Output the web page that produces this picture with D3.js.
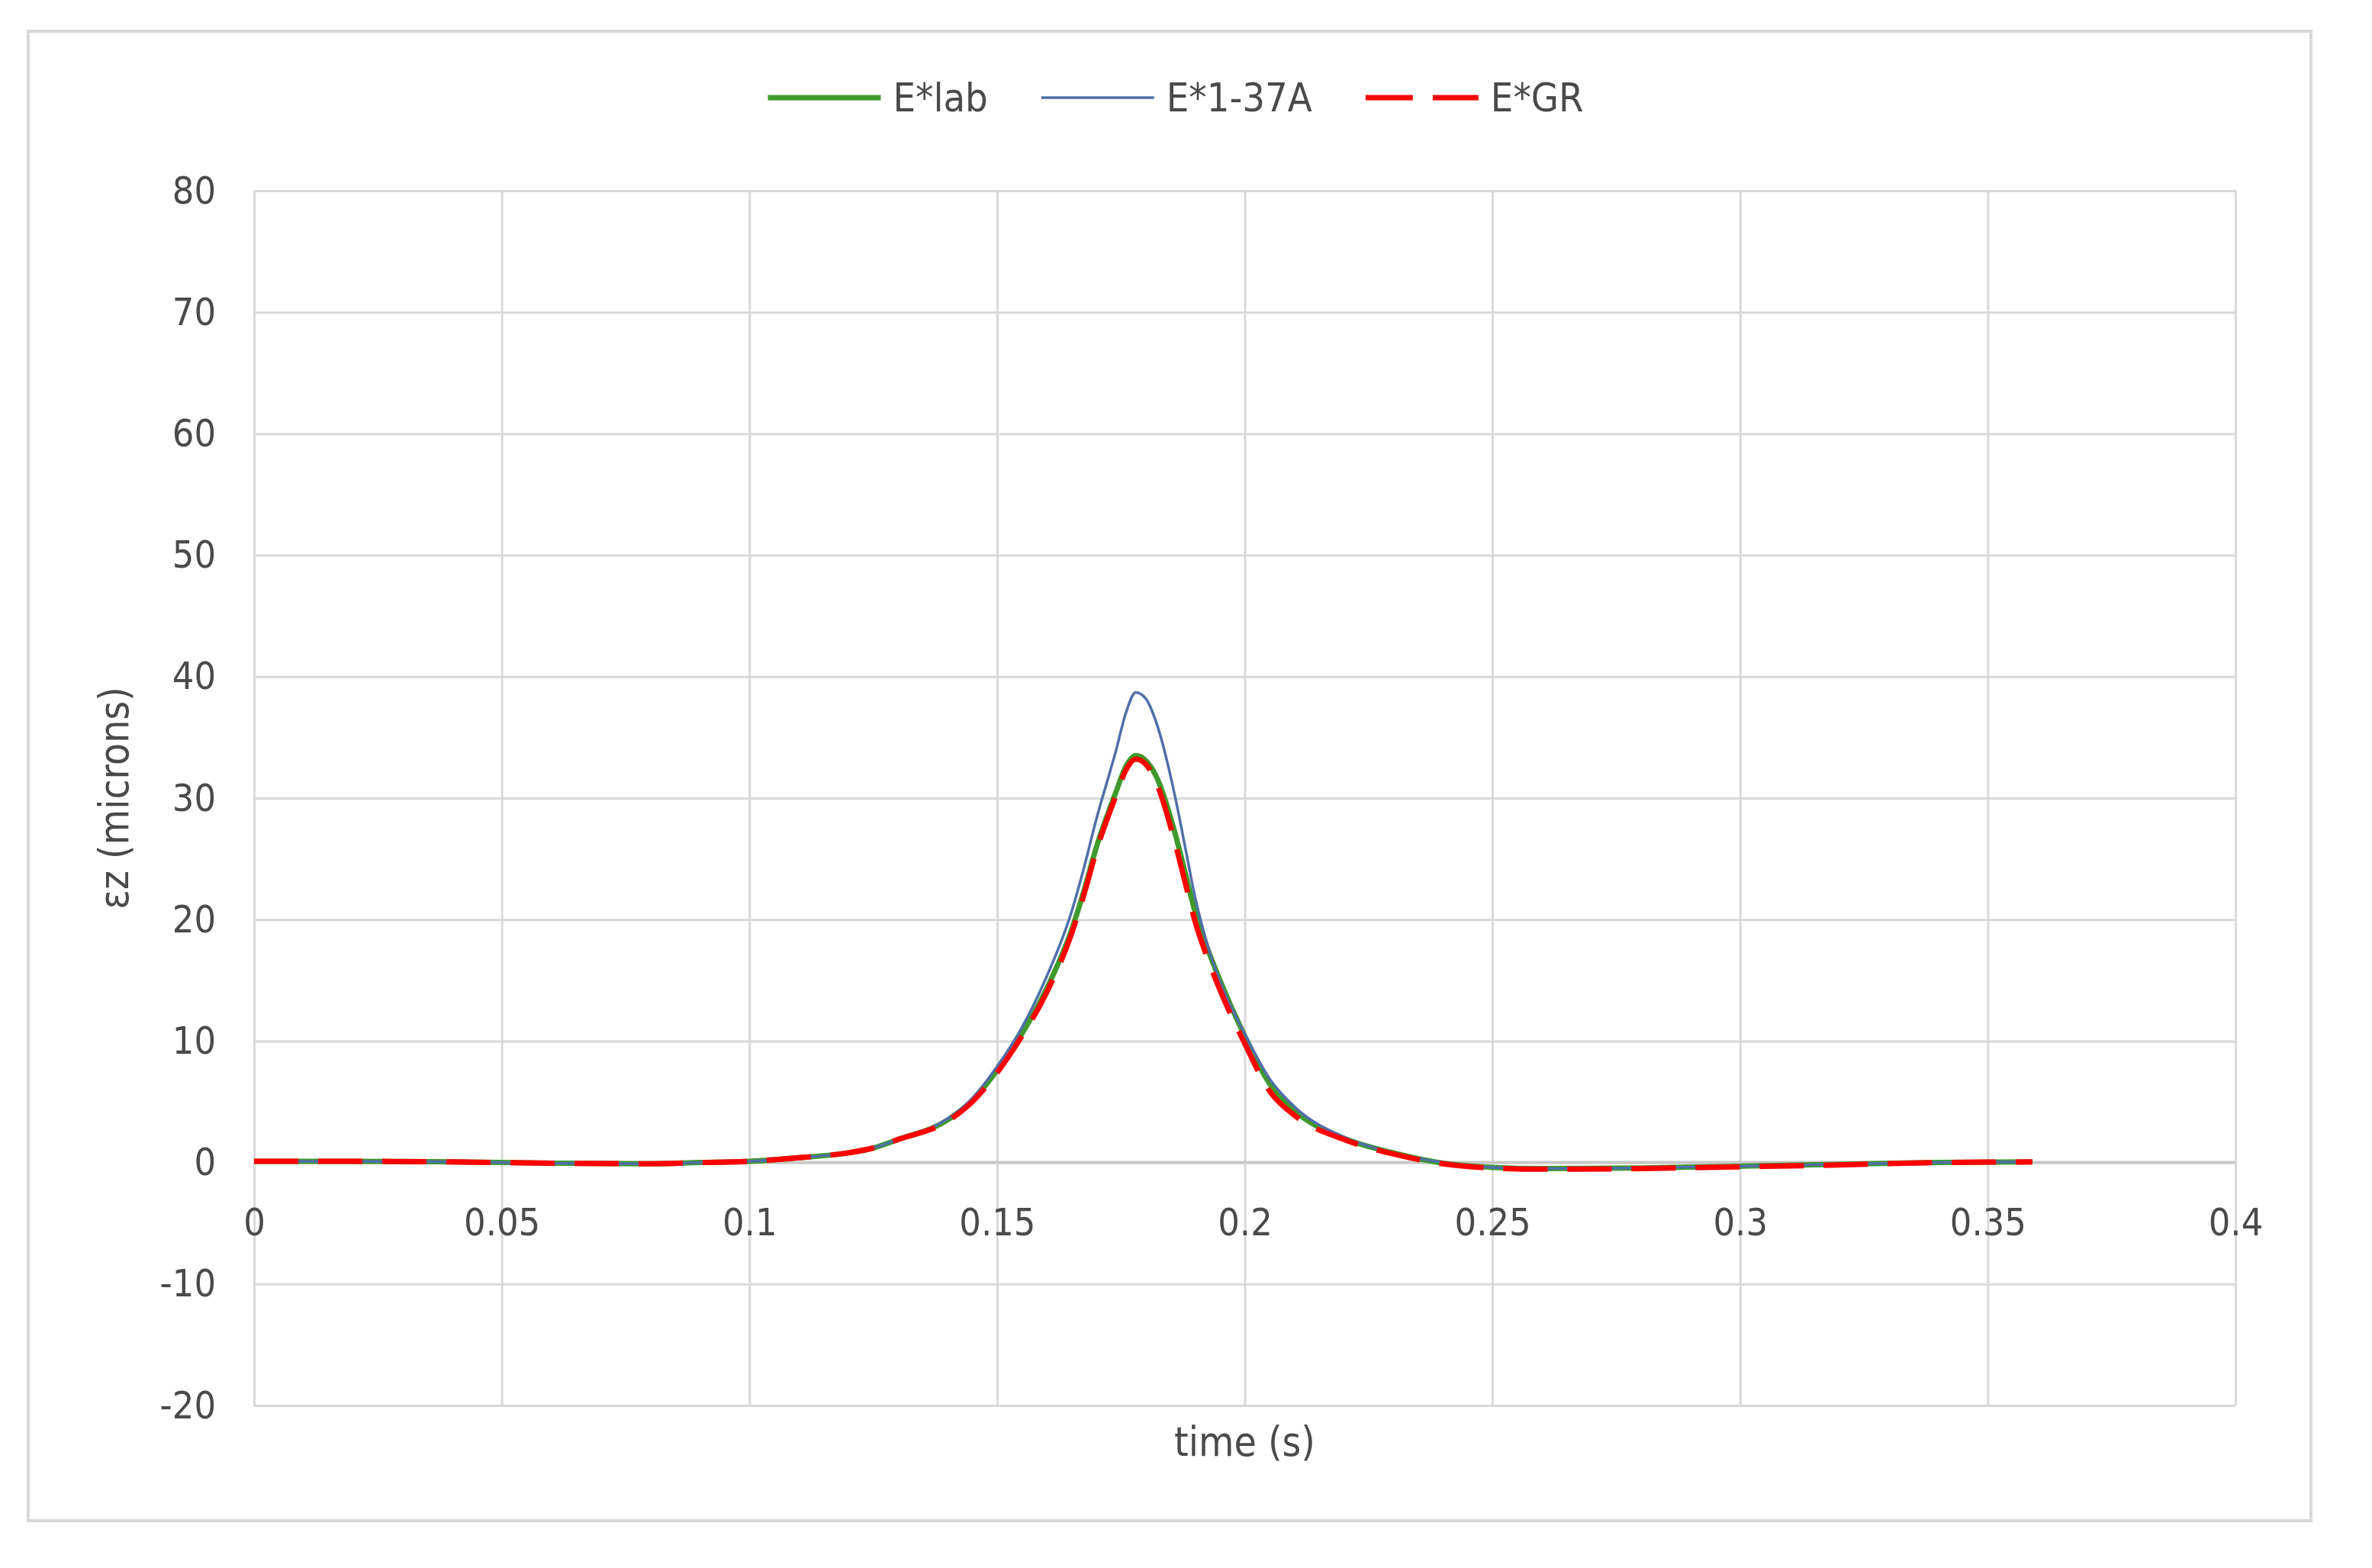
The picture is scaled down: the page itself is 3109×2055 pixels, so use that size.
<!DOCTYPE html>
<html>
<head>
<meta charset="utf-8">
<script src="https://cdn.jsdelivr.net/npm/d3@7"></script>
<style>
  body { margin: 0; background: #ffffff; }
  text { font-family: 'DejaVu Sans Condensed', 'DejaVu Sans', sans-serif; font-stretch: condensed; }
</style>
</head>
<body>
<div id="grafica"></div>
<script>
// datos
var tiempo = [0, 0.02, 0.04, 0.06, 0.08, 0.09, 0.1, 0.11, 0.12, 0.125, 0.13, 0.14, 0.145, 0.15, 0.155, 0.16, 0.165,
              0.1675, 0.17, 0.174, 0.176, 0.178, 0.18, 0.182, 0.186, 0.188, 0.19, 0.1925, 0.195, 0.2, 0.205, 0.21,
              0.22, 0.23, 0.24, 0.25, 0.26, 0.28, 0.3, 0.32, 0.34, 0.359]
var eLab   = [0.1, 0.1, 0.05, -0.05, -0.1, 0, 0.1, 0.4, 0.8, 1.2, 1.9, 3.5, 5.1, 7.6, 10.6, 14.3, 19.1,
              22.3, 25.9, 30.5, 32.6, 33.5, 33.1, 31.9, 27.0, 23.8, 20.6, 17.6, 15.0, 10.4, 6.5, 4.3,
              2.0, 0.8, -0.05, -0.4, -0.5, -0.45, -0.3, -0.15, 0, 0.05]
var e137A  = [0.1, 0.1, 0.05, -0.05, -0.1, 0, 0.1, 0.4, 0.8, 1.2, 1.9, 3.6, 5.3, 7.9, 11.1, 15.3, 20.6,
              24.2, 28.2, 33.9, 37.0, 38.7, 38.2, 36.4, 30.0, 25.9, 21.8, 17.9, 14.9, 10.6, 6.9, 4.6,
              2.1, 0.8, 0, -0.4, -0.5, -0.45, -0.3, -0.15, 0, 0.05]
var eGR    = [0.1, 0.1, 0.05, -0.05, -0.1, 0, 0.1, 0.4, 0.8, 1.2, 1.9, 3.4, 5.0, 7.4, 10.4, 14.0, 18.8,
              22.0, 25.6, 30.2, 32.3, 33.2, 32.8, 31.4, 26.2, 23.0, 19.8, 16.8, 14.2, 9.8, 5.9, 3.9,
              1.9, 0.7, -0.1, -0.45, -0.55, -0.5, -0.35, -0.2, 0, 0.05]

var nombres  = ['E*lab', 'E*1-37A', 'E*GR']
var xTicks   = [0, 0.05, 0.1, 0.15, 0.2, 0.25, 0.3, 0.35, 0.4]
var xLabels  = ['0', '0.05', '0.1', '0.15', '0.2', '0.25', '0.3', '0.35', '0.4']
var yTicks   = [-20, -10, 0, 10, 20, 30, 40, 50, 60, 70, 80]

var ancho_total = 3109
var alto_total  = 2055
var margin = { left: 333, right: 179, top: 250, bottom: 213 }
var ancho = ancho_total - margin.left - margin.right
var alto  = alto_total - margin.top - margin.bottom
var colorTexto = '#4a4a4a'

var series = [
  { nombre: nombres[0], valores: eLab,  color: '#3f9a2c', ancho: 7,   dash: null },
  { nombre: nombres[1], valores: e137A, color: '#4f6fa8', ancho: 3.5, dash: null },
  { nombre: nombres[2], valores: eGR,   color: '#ff0000', ancho: 7,   dash: '58,26' }
]

var svg = d3.select('#grafica')
  .append('svg')
  .attr('width', ancho_total)
  .attr('height', alto_total)

// marco exterior
svg.append('rect')
  .attr('x', 37).attr('y', 41)
  .attr('width', 2992).attr('height', 1952)
  .attr('fill', '#ffffff')
  .attr('stroke', '#d9d9d9')
  .attr('stroke-width', 4)

var g = svg.append('g')
  .attr('transform', 'translate(' + margin.left + ',' + margin.top + ')')

var x = d3.scaleLinear().domain([0, 0.4]).range([0, ancho])
var y = d3.scaleLinear().domain([-20, 80]).range([alto, 0])

// rejilla
var gridX = g.append('g')
  .attr('transform', 'translate(0,' + alto + ')')
  .call(d3.axisBottom(x).tickValues(xTicks).tickSize(-alto).tickFormat(''))
var gridY = g.append('g')
  .call(d3.axisLeft(y).tickValues(yTicks).tickSize(-ancho).tickFormat(''))
gridX.select('.domain').remove()
gridY.select('.domain').remove()
g.selectAll('.tick line').attr('stroke', '#d9d9d9').attr('stroke-width', 3)

// eje horizontal en cero
g.append('line')
  .attr('x1', 0).attr('x2', ancho)
  .attr('y1', y(0)).attr('y2', y(0))
  .attr('stroke', '#c8c8c8')
  .attr('stroke-width', 4)

// etiquetas de los ejes
var xAxis = g.append('g')
  .attr('transform', 'translate(0,' + y(0) + ')')
  .call(d3.axisBottom(x).tickValues(xTicks).tickSize(0).tickPadding(60)
    .tickFormat((d, i) => xLabels[i]))
var yAxis = g.append('g')
  .call(d3.axisLeft(y).tickValues(yTicks).tickSize(0).tickPadding(50)
    .tickFormat((d) => String(d)))
xAxis.select('.domain').remove()
yAxis.select('.domain').remove()
svg.selectAll('.tick text')
  .attr('font-size', '50px')
  .attr('font-family', "'DejaVu Sans Condensed', 'DejaVu Sans', sans-serif")
  .attr('fill', colorTexto)

// lineas
var linea = d3.line()
  .x((d, i) => x(tiempo[i]))
  .y((d) => y(d))
  .curve(d3.curveMonotoneX)

series.forEach((s) => {
  g.append('path')
    .datum(s.valores)
    .attr('d', linea)
    .attr('fill', 'none')
    .attr('stroke', s.color)
    .attr('stroke-width', s.ancho)
    .attr('stroke-dasharray', s.dash)
    .attr('stroke-linejoin', 'round')
})

// titulos
svg.append('text')
  .attr('x', margin.left + ancho / 2)
  .attr('y', 1908)
  .attr('text-anchor', 'middle')
  .attr('font-size', '53px')
  .attr('fill', colorTexto)
  .text('time (s)')

svg.append('text')
  .attr('transform', 'translate(149,' + (margin.top + alto / 2) + ') rotate(-90)')
  .attr('text-anchor', 'middle')
  .attr('dominant-baseline', 'central')
  .attr('font-size', '53px')
  .attr('fill', colorTexto)
  .text('εz (microns)')

// leyenda
var leyenda = svg.append('g')
var cursor = 0
var largo = 148
series.forEach((s, i) => {
  var item = leyenda.append('g').attr('transform', 'translate(' + cursor + ',0)')
  item.append('line')
    .attr('x1', 0).attr('x2', largo)
    .attr('y1', 0).attr('y2', 0)
    .attr('stroke', s.color)
    .attr('stroke-width', s.ancho)
    .attr('stroke-dasharray', s.dash ? '62,26' : null)
  var t = item.append('text')
    .attr('x', largo + 16)
    .attr('y', 0)
    .attr('dominant-baseline', 'central')
    .attr('font-size', '52px')
    .attr('fill', colorTexto)
    .text(s.nombre)
  cursor += largo + 16 + t.node().getComputedTextLength() + 70
})
var anchoLeyenda = cursor - 70
leyenda.attr('transform', 'translate(' + (1541 - anchoLeyenda / 2) + ',128)')
</script>
</body>
</html>
